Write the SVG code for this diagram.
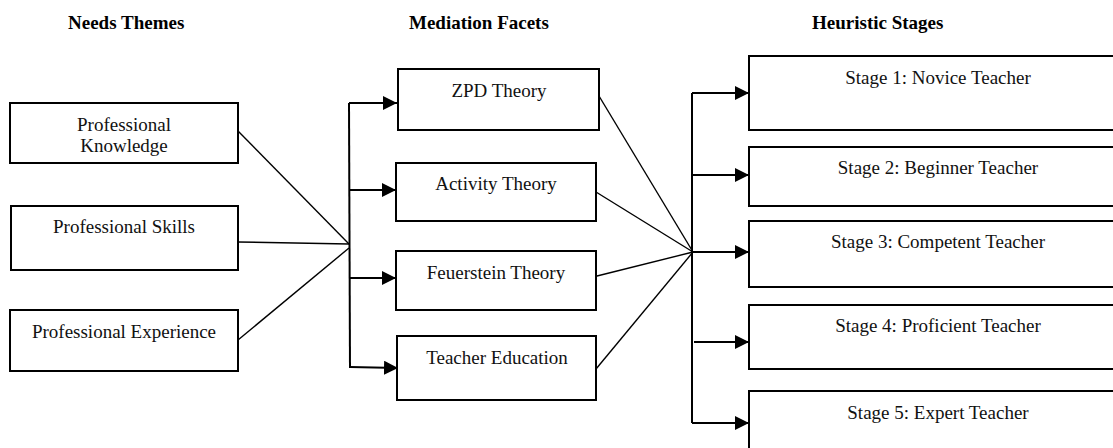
<svg xmlns="http://www.w3.org/2000/svg" width="1113" height="448" viewBox="0 0 1113 448">
<style>
.box{fill:#fff;stroke:#000;stroke-width:2}
.t{font-family:"Liberation Serif","Times New Roman",serif;font-size:19px;fill:#111;text-anchor:middle}
.h{font-family:"Liberation Serif","Times New Roman",serif;font-size:19px;font-weight:bold;fill:#000}
.ln{stroke:#000;stroke-width:1.4;fill:none}
.ar{stroke:#000;stroke-width:2;fill:none}
</style>
<defs>
<marker id="ah" viewBox="0 0 14 14" refX="14" refY="7" markerWidth="14" markerHeight="14" markerUnits="userSpaceOnUse" orient="auto">
<path d="M0,0 L14,7 L0,14 Z" fill="#000"/>
</marker>
</defs>
<rect width="1113" height="448" fill="#fff"/>
<g id="headers">
<text class="h" x="68" y="29">Needs Themes</text>
<text class="h" x="409" y="29">Mediation Facets</text>
<text class="h" x="812" y="29">Heuristic Stages</text>
</g>
<g id="connectors">
<line class="ln" x1="238" y1="131" x2="349" y2="244"/>
<line class="ln" x1="238" y1="242" x2="349" y2="244"/>
<line class="ln" x1="238" y1="340" x2="349" y2="248"/>
<line class="ar" x1="349" y1="103" x2="350" y2="368"/>
<line class="ar" x1="349" y1="103" x2="397" y2="103" marker-end="url(#ah)"/>
<line class="ar" x1="349" y1="190" x2="396" y2="190" marker-end="url(#ah)"/>
<line class="ar" x1="350" y1="278" x2="396" y2="278" marker-end="url(#ah)"/>
<line class="ar" x1="350" y1="367" x2="398" y2="368" marker-end="url(#ah)"/>
<line class="ln" x1="599" y1="96" x2="693" y2="252"/>
<line class="ln" x1="596" y1="192" x2="693" y2="252"/>
<line class="ln" x1="593" y1="277" x2="693" y2="252"/>
<line class="ln" x1="596" y1="369" x2="693" y2="252"/>
<line class="ar" x1="692" y1="93" x2="692" y2="423"/>
<line class="ar" x1="692" y1="93" x2="749" y2="93" marker-end="url(#ah)"/>
<line class="ar" x1="692" y1="175" x2="749" y2="175" marker-end="url(#ah)"/>
<line class="ar" x1="692" y1="252" x2="749" y2="252" marker-end="url(#ah)"/>
<line class="ar" x1="694" y1="342" x2="749" y2="342" marker-end="url(#ah)"/>
<line class="ar" x1="692" y1="423" x2="749" y2="423" marker-end="url(#ah)"/>
</g>
<g id="professional-knowledge">
<rect class="box" x="10" y="103" width="228" height="60"/>
<text class="t" x="124" y="131">Professional</text>
<text class="t" x="124" y="152">Knowledge</text>
</g>
<g id="professional-skills">
<rect class="box" x="11" y="206" width="227" height="64"/>
<text class="t" x="124" y="233">Professional Skills</text>
</g>
<g id="professional-experience">
<rect class="box" x="10" y="310" width="228" height="61"/>
<text class="t" x="124" y="338">Professional Experience</text>
</g>
<g id="zpd-theory">
<rect class="box" x="398" y="69" width="201" height="61"/>
<text class="t" x="499" y="97">ZPD Theory</text>
</g>
<g id="activity-theory">
<rect class="box" x="396" y="163" width="200" height="58"/>
<text class="t" x="496" y="190">Activity Theory</text>
</g>
<g id="feuerstein-theory">
<rect class="box" x="396" y="251" width="200" height="59"/>
<text class="t" x="496" y="279">Feuerstein Theory</text>
</g>
<g id="teacher-education">
<rect class="box" x="397" y="336" width="199" height="64"/>
<text class="t" x="497" y="364">Teacher Education</text>
</g>
<g id="stage-1">
<rect class="box" x="749" y="56" width="380" height="74"/>
<text class="t" x="938" y="84">Stage 1: Novice Teacher</text>
</g>
<g id="stage-2">
<rect class="box" x="749" y="147" width="380" height="59"/>
<text class="t" x="938" y="174">Stage 2: Beginner Teacher</text>
</g>
<g id="stage-3">
<rect class="box" x="749" y="221" width="380" height="66"/>
<text class="t" x="938" y="248">Stage 3: Competent Teacher</text>
</g>
<g id="stage-4">
<rect class="box" x="749" y="305" width="380" height="64"/>
<text class="t" x="938" y="332">Stage 4: Proficient Teacher</text>
</g>
<g id="stage-5">
<rect class="box" x="749" y="391" width="380" height="80"/>
<text class="t" x="938" y="419">Stage 5: Expert Teacher</text>
</g>
</svg>
